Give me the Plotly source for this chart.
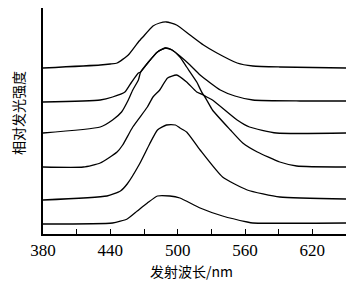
import plotly.graph_objects as go

# Wavelength (nm) and relative intensity (arbitrary, stacked offsets)
c1_x = [380, 431, 440, 446, 456, 465, 469, 478, 484, 490, 499, 511, 523, 535, 553, 567, 591, 650]
c1_y = [166, 169, 170, 171, 179, 192, 197, 208, 211, 212, 209, 199, 189, 181, 171, 168, 167, 166]

c2_x = [380, 431, 442, 453, 459, 465, 467, 474, 482, 489, 495, 502, 511, 520, 538, 551, 567, 609, 650]
c2_y = [132, 134, 137, 142, 152, 161, 162, 172, 182, 186, 184, 178, 169, 159, 144, 138, 134, 133, 133]

c3_x = [380, 431, 442, 450, 456, 460, 465, 467, 474, 482, 489, 495, 502, 508, 517, 523, 531, 553, 564, 588, 650]
c3_y = [101, 107, 114, 122, 134, 144, 154, 162, 172, 182, 186, 184, 177, 167, 152, 139, 134, 114, 107, 101, 101]

c4_x = [380, 416, 431, 446, 451, 460, 473, 478, 484, 491, 499, 508, 517, 523, 531, 547, 558, 571, 591, 606, 650]
c4_y = [67, 67, 71, 82, 89, 107, 127, 137, 144, 156, 159, 152, 142, 139, 124, 104, 91, 82, 72, 68, 67]

c5_x = [380, 437, 449, 455, 466, 475, 482, 490, 498, 502, 508, 520, 540, 562, 591, 650]
c5_y = [34, 38, 43, 50, 70, 90, 104, 109, 109, 106, 102, 84, 57, 44, 37, 35]

c6_x = [380, 442, 455, 464, 473, 482, 493, 502, 520, 540, 562, 567, 650]
c6_y = [10, 11, 15, 23, 31, 38, 38, 36, 26, 18, 12, 11, 11]

tick_vals = [380, 410, 440, 470, 500, 530, 560, 590, 620, 650]
tick_text = ["380", "", "440", "", "500", "", "560", "", "620", ""]

x_title = "发射波长/nm"
y_title = "相对发光强度"

fig = go.Figure()
for xs, ys in [(c1_x, c1_y), (c2_x, c2_y), (c3_x, c3_y), (c4_x, c4_y), (c5_x, c5_y), (c6_x, c6_y)]:
    fig.add_trace(go.Scatter(x=xs, y=ys, mode="lines",
                             line=dict(color="black", width=1.3, shape="spline", smoothing=0.5),
                             showlegend=False, hoverinfo="skip"))

fig.update_layout(
    width=352, height=280,
    margin=dict(l=35, r=14, t=0, b=54, autoexpand=False),
    paper_bgcolor="white", plot_bgcolor="white",
    showlegend=False,
    xaxis=dict(range=[380, 650], tickvals=tick_vals, ticktext=tick_text,
               ticks="inside", ticklen=5, tickwidth=1.2, tickcolor="black",
               showline=True, linecolor="black", linewidth=1.5,
               showgrid=False, zeroline=False,
               tickfont=dict(family="Liberation Serif", size=17, color="black")),
    yaxis=dict(range=[0, 226], showticklabels=False, ticks="",
               showline=True, linecolor="black", linewidth=1.5,
               showgrid=False, zeroline=False),
    annotations=[
        dict(text=x_title, xref="paper", yref="paper", x=(191 - 43) / 303, y=-(271 - 234) / 226,
             xanchor="center", yanchor="middle", showarrow=False,
             font=dict(family="Noto Sans CJK SC, Liberation Serif", size=14, color="black")),
        dict(text=y_title, xref="paper", yref="paper", x=(18 - 43) / 303, y=(234 - 113) / 226,
             xanchor="center", yanchor="middle", textangle=-90, showarrow=False,
             font=dict(family="Noto Sans CJK SC", size=14, color="black")),
    ],
)

fig.write_html("out.html")
